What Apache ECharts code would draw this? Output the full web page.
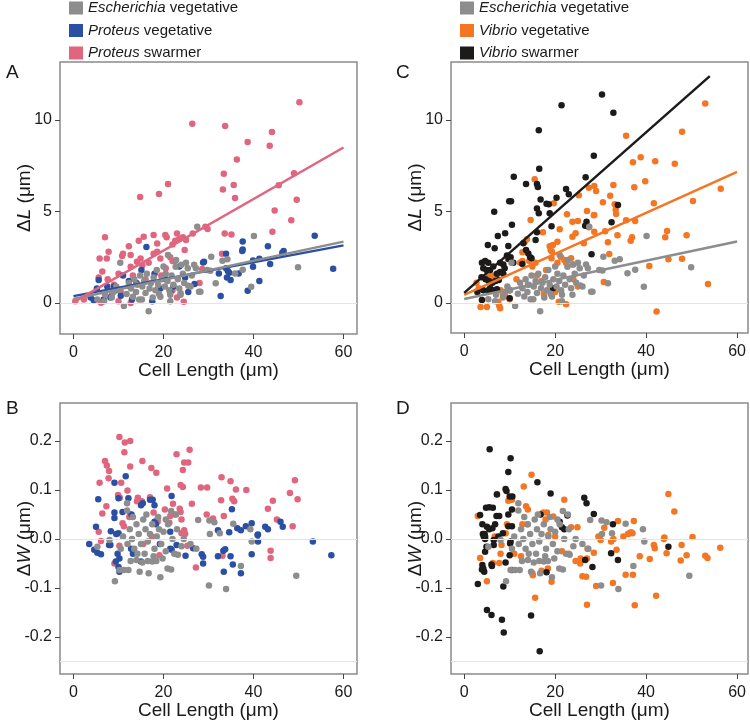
<!DOCTYPE html>
<html>
<head>
<meta charset="utf-8">
<script src="https://cdn.jsdelivr.net/npm/echarts@6.0.0/dist/echarts.min.js"></script>
<style>
html,body{margin:0;padding:0;background:#fff}
#main{width:750px;height:721px}
</style>
</head>
<body>
<div id="main"></div>
<script>
// ---- data: [cell length (um), change (um)] ----
// Escherichia vegetative, shared by panels A/C and B/D
var ecoliL = [[5.3,0.2],[6.8,0.1],[7,0.45],[8.5,0.3],[8.9,0.6],[9.5,0.9],[10.1,0.71],[10.4,2.2],[11.2,-0.16],[11.8,0.5],[12.3,1.1],[12.8,0.8],[13.2,0.35],[13.5,1.3],[13.9,0.6],[14.2,1.0],[14.6,0.2],[14.8,1.5],[15.2,0.2],[15.3,0.9],[15.7,1.2],[16.0,0.55],[16.3,1.6],[16.7,-0.45],[16.9,0.8],[17.2,1.1],[17.6,0.3],[17.8,1.4],[18.2,0.7],[18.5,1.8],[18.8,1.0],[19.0,0.5],[19.3,0.35],[19.6,1.3],[20.0,2.0],[20.3,0.9],[20.5,1.6],[20.9,1.2],[21.0,2.62],[21.3,0.7],[21.5,0.45],[21.5,0.1],[21.8,1.5],[22.2,1.0],[22.7,1.98],[22.8,2.35],[23.2,1.3],[23.5,0.8],[23.8,0.45],[24.0,2.1],[24.3,1.6],[24.6,1.1],[25.0,2.2],[25.4,1.9],[25.5,0.95],[26,0.9],[26.3,1.5],[26.8,2.1],[27.2,1.9],[27.5,4.17],[27.9,0.62],[28.2,0.62],[29.7,1.8],[30.4,1.77],[30.6,2.53],[31.6,1.08],[33.1,2.31],[34.2,2.39],[35.9,1.62],[37.6,1.82],[39.5,0.89],[40.1,3.66],[49.9,1.95]];
var ecoliW = [[11.9,0.073],[11.9,0.058],[21.7,0.057],[27.7,0.039],[30.2,0.038],[31.3,0.034],[30.3,0.01],[32.5,0.012],[35.5,0.031],[39.3,0.02],[9.2,-0.086],[10.2,-0.063],[11.2,-0.063],[12.2,-0.063],[14.7,-0.067],[16.7,-0.07],[19.3,-0.078],[20.9,-0.06],[21.7,-0.062],[30.1,-0.095],[33.9,-0.102],[37.2,-0.055],[39.6,-0.005],[49.5,-0.075],[12.7,-0.045],[14,-0.043],[15.3,-0.048],[16.5,-0.045],[17.5,-0.046],[18.4,-0.045],[22.4,-0.03],[23.2,-0.032],[24.5,0],[26,-0.01],[27.3,-0.02],[5.3,-0.016],[8,-0.002],[12.5,0.02],[13,0.0],[13.5,-0.02],[14,0.03],[14.5,0.01],[15,-0.01],[15.5,0.04],[16,0.02],[16.5,-0.005],[17,0.01],[17.5,0.03],[18,-0.02],[18.5,0.005],[19,0.02],[19.5,-0.01],[20,0.015],[20.5,-0.025],[21,0.03],[22,0.0],[23,0.02],[24,-0.015],[13.2,0.045],[15.8,-0.03],[17.8,-0.035],[19.8,-0.04],[14.2,-0.03],[16.2,0.05],[12,-0.01],[11,0.005],[10.5,-0.02],[18.8,0.045],[20.5,0.04],[22.8,0.05]];

// Proteus
var proVegL = [[53.6,3.68],[37.6,3.37],[37.6,2.93],[37.5,2.85],[43.2,3.1],[46.7,2.84],[46.4,2.75],[33.9,2.7],[39.9,2.33],[41.3,2.42],[43.7,2.13],[39.9,1.98],[57.7,1.88],[28.8,2.22],[33.9,1.9],[34.3,1.75],[34.6,1.65],[36.7,1.62],[32.3,1.62],[34.1,1.4],[34.9,1.26],[41.3,1.2],[38.7,0.67],[32.7,0.38],[16.2,3.06],[15.1,1.8],[5.6,1.26],[5.2,0.8],[4.5,0.16],[9,0.9],[9.2,0.7],[8.2,0.3],[6.7,0.2],[12.3,1.2],[12.5,0.9],[19.3,0.8],[21.5,0.6],[22.2,0.9],[29,2.26],[26.9,1.04],[10.5,0.4],[11,1.5],[13,0.2],[14,1.1],[17.5,0.1],[18,1.6],[20.5,1.3],[23.5,2.0],[24.8,1.4],[3.8,0.3],[7.5,0.9],[25.5,0.6]];
var proSwL = [[26.4,9.8],[21,6.5],[19,5.96],[14.8,5.8],[50.2,10.97],[33.7,9.67],[44.1,9.34],[38.7,8.8],[43.6,8.6],[36.3,7.85],[33.4,7.07],[49,7.09],[35.6,6.45],[33.2,6.2],[45.6,6.43],[35.9,5.74],[49.6,5.65],[44.7,5.06],[48.4,4.52],[29.3,4.17],[29.8,4.04],[33.6,3.8],[35.1,3.75],[44.2,3.9],[33,2.7],[28.6,1.86],[28,1.1],[7,3.6],[7.8,2.8],[5.8,2.44],[7.4,2.44],[6.4,1.73],[5.6,1.4],[10.8,2.57],[11,2.7],[12.7,2.62],[12.3,3.11],[14.5,3.4],[15.6,3.62],[17.8,3.72],[18.6,3.26],[20.4,3.72],[20.7,3.6],[18.6,2.8],[17.8,2.7],[14.9,2.44],[14.1,2.26],[16.7,2.2],[12.7,1.98],[15.3,2.07],[19.3,2.44],[21.5,2.5],[22,3.2],[22.6,3.4],[23.5,3.5],[24.3,3.6],[25,3.45],[24.7,2.9],[23,3.8],[26.5,3.8],[22.5,2.3],[22,2.3],[7.6,1.3],[9,1.0],[10.5,0.6],[12.7,0],[23.8,0.53],[24.5,0.07],[22,0.7],[23,0.3],[8.5,0.5],[0.4,0.1],[2.3,0.2],[6.1,0.02],[10,0.1],[10,1.6],[13.2,1.5],[16,1.3],[19.5,1.5],[20.5,1.9]];
var proVegW = [[11.6,0.128],[9.1,0.115],[5.5,0.081],[12.2,0.083],[10,0.083],[15,0.069],[15.4,0.073],[17,0.08],[17.6,0.08],[18,0.069],[21.8,0.088],[9.1,0.054],[9.1,0.043],[10.9,0.055],[12.9,0.05],[5,0.025],[8.3,0.016],[9.5,0.01],[10,0.012],[18,0.035],[18.3,0.03],[35.2,0.061],[32.1,0.018],[34.6,0.014],[36.4,0.022],[37.2,0.018],[38.3,0.026],[39.6,0.032],[41,0.009],[42.6,0.025],[43.2,0.02],[46,0.035],[46.5,0.025],[21.5,0.015],[3.5,-0.01],[4.6,-0.022],[5.3,-0.028],[6.1,-0.031],[7.9,-0.012],[8.2,-0.012],[9.8,-0.03],[10.2,-0.04],[9.4,-0.046],[10,-0.057],[10.2,-0.067],[12.8,-0.02],[13.2,-0.03],[15,-0.046],[19.2,-0.01],[21.5,-0.02],[21.8,-0.022],[22.9,-0.012],[24.9,-0.034],[26.6,-0.019],[28.5,-0.031],[28.8,-0.036],[28.8,-0.05],[32.1,-0.035],[33.3,-0.024],[33.7,-0.021],[34.9,-0.035],[35.4,-0.052],[33.4,-0.067],[37.2,-0.07],[39.6,-0.031],[40.9,0.008],[41,-0.005],[53.2,-0.005],[57.3,-0.033]];
var proSwW = [[10.2,0.208],[11.4,0.197],[12.6,0.2],[11.3,0.177],[7,0.159],[7.4,0.15],[7.9,0.139],[7.8,0.124],[5.8,0.115],[10.6,0.115],[12.6,0.148],[15.3,0.159],[17.3,0.145],[18.4,0.135],[22.9,0.173],[25.8,0.182],[24.6,0.156],[25.5,0.156],[24.3,0.141],[23.8,0.11],[24.3,0.106],[20.8,0.103],[28.3,0.105],[29.7,0.105],[32.9,0.126],[34.9,0.118],[36.1,0.101],[38.4,0.1],[35.3,0.082],[35.7,0.077],[32.8,0.079],[49.2,0.12],[48.1,0.094],[49.8,0.081],[44.3,0.078],[43.2,0.062],[45.2,0.04],[48.7,0.026],[33.4,0.047],[31,0.042],[29.6,0.05],[26.3,0.072],[23.6,0.062],[23.8,0.055],[24,0.04],[20.3,0.06],[22.1,0.072],[21.5,0.047],[21.3,0.033],[22.5,0.05],[18.7,0.041],[18.7,0.035],[17.8,0.054],[17,0.085],[14.3,0.084],[15.2,0.077],[14.1,0.077],[12,0.099],[9.9,0.09],[10.3,0.084],[7.3,0.067],[6.4,0.052],[12.6,0.05],[12.4,0.045],[10.9,0.032],[11.2,0.026],[24.6,0.018],[5.6,0.015],[6.1,-0.004],[10.2,-0.014],[9.1,-0.05],[19.1,-0.033],[25.3,-0.014],[24,0.012],[24.8,0.01],[27.2,-0.058],[33.1,-0.034],[43.8,-0.024],[43.8,-0.039],[15.5,-0.01],[17.4,0.005]];

// Vibrio
var vibVegL = [[15.5,6.76],[14.6,4.54],[19.7,5.45],[17.3,3.86],[13.3,3.33],[13.8,3.48],[22.6,4.85],[25.2,5.89],[23.8,4.44],[25,4.48],[27,5.03],[28.5,4.79],[27.4,6.3],[29,6.12],[21,4.03],[23.8,3.62],[24.5,3.81],[20.5,3.35],[19.5,3.17],[12.8,2.77],[13.6,2.84],[18.8,3.1],[19,2.9],[19.3,2.8],[19.2,2.45],[20.5,2.2],[21.3,2.5],[22,2.35],[22.4,2.2],[23.5,2.45],[23.8,2.1],[26.3,3.26],[27.4,4.14],[28.6,3.9],[14.3,2.3],[15,2.0],[15.7,2.2],[12.3,2.2],[12.8,2.3],[9.6,2.4],[5.4,1.5],[6,1.4],[6.5,1.5],[7.3,1.6],[2.7,1.1],[3.2,0.8],[8,0.7],[8.5,0.5],[9,0.4],[7.5,0.07],[7.7,-0.15],[7.9,-0.29],[3.6,-0.22],[5,-0.22],[10,0.2],[20.8,0.07],[22.4,-0.07],[20,0.6],[16,1.5],[17,1.2],[18,1.8],[24,1.3],[25,0.9],[17.5,0.5],[14,1],[11.5,1.3],[53,10.9],[47.9,9.36],[35.6,9.14],[37.1,7.69],[38.8,7.96],[42,7.74],[46.3,7.61],[28.6,6.39],[32.8,6.45],[37.4,6.32],[39.8,6.65],[56.4,6.25],[32.1,5.86],[30.5,5.5],[33.1,5.4],[33.3,5.1],[33.4,4.86],[28.6,4.81],[41.7,5.45],[50.3,5.57],[35.6,4.52],[37.6,4.48],[31,3.92],[33.7,3.7],[36.9,3.59],[36.6,3.4],[31.6,3.32],[44.6,3.93],[44.2,3.59],[48.9,3.7],[31.9,2.68],[44.9,2.39],[47.9,2.42],[40.7,2.02],[30.7,1.15],[53.6,1.04],[42.3,-0.47]];
var vibSwL = [[21.4,10.8],[16.4,9.44],[28.5,8.05],[16.5,7.34],[10.9,6.9],[16,6.5],[16.2,6.34],[13.6,6.5],[26.7,6.87],[22.4,6.23],[23,5.94],[16.8,5.65],[20.3,5.75],[18.1,5.43],[18.6,5.39],[9.9,5.56],[10.3,5.56],[16,5.17],[16.4,4.9],[6.6,4.99],[18.8,4.9],[10.5,4.28],[19.2,4.2],[26.9,4.44],[26.6,4.22],[7.4,3.66],[9,3.81],[16,3.86],[15.7,3.44],[5.2,3.17],[6.7,2.99],[9.7,3.11],[13,3.26],[13.6,2.9],[14.1,2.7],[14.5,2.5],[14.8,2.44],[9.4,2.6],[9.8,2.4],[10.2,2.5],[10.8,2.2],[3.9,2.2],[4.6,2.3],[5.3,2.2],[4.2,1.9],[4.9,1.8],[5.7,1.8],[6.4,2.0],[7.9,2.2],[8.6,2.1],[7.2,1.6],[7.9,1.7],[8.6,1.6],[8.9,1.9],[3.8,1.4],[4.7,1.3],[5.4,1.2],[6.2,1.1],[6.9,1.2],[7.6,1.25],[4.2,0.7],[5.3,0.7],[5.7,0.8],[6.4,0.7],[7.2,0.75],[3.9,0.16],[2.9,0.6],[10,0.7],[10,0.26],[12.8,2.13],[19.5,0.8],[28,2.66],[30.3,11.4],[32.8,10.4],[33.8,5.36],[32.4,4.41]];
var vibVegW = [[14.8,0.131],[13.1,0.107],[7.2,0.092],[10.5,0.08],[9.7,0.078],[22,0.08],[13.6,0.067],[14,0.06],[17.4,0.054],[18.2,0.054],[17.9,0.04],[19.6,0.046],[12.8,0.03],[13.9,0.03],[9.4,0.03],[9.1,0.012],[23.5,0.024],[24.9,0.024],[33.8,0.037],[37.3,0.037],[44.9,0.092],[46.2,0.056],[50.2,0.004],[44,0.003],[36.3,0.012],[36.7,0.014],[30.8,0.023],[3,0.047],[6.7,0.005],[20,0.005],[18.5,0.008],[3.5,-0.039],[5,-0.086],[6.3,-0.049],[7.7,-0.049],[8,-0.03],[8.2,-0.012],[15.6,-0.12],[15,-0.07],[15.1,-0.074],[17,-0.065],[18.4,-0.06],[19.2,-0.087],[27,-0.134],[26,-0.076],[26.8,-0.077],[27,-0.04],[27.1,-0.02],[25.5,-0.05],[25.6,-0.04],[24.5,-0.045],[29,-0.096],[32.7,-0.09],[33.5,-0.022],[35.5,-0.073],[37.1,-0.073],[37.5,-0.135],[38.6,-0.035],[40.8,-0.041],[41.7,-0.012],[41.9,-0.019],[43.9,0],[42.2,-0.116],[44.5,-0.029],[47.8,-0.012],[48.9,-0.033],[47.6,-0.044],[53,-0.034],[53.5,-0.039],[56.3,-0.018],[35,0.005],[36,0.01],[37,0.012],[32.3,-0.005],[32.8,0],[29.5,0.005],[23,-0.03],[21.5,-0.025],[11,-0.03],[12.5,-0.035],[30,-0.002],[28.5,-0.028]];
var vibSwW = [[5.6,0.183],[10.2,0.165],[9.7,0.137],[16.1,0.116],[9.1,0.102],[9.3,0.098],[10,0.087],[10.6,0.087],[19,0.093],[7.2,0.091],[26.4,0.084],[26.9,0.073],[28.5,0.051],[32.7,0.03],[4.8,0.064],[5.5,0.065],[6.3,0.064],[3.5,0.049],[4,0.03],[5,0.025],[5.5,0.02],[6.2,0.022],[6.8,0.03],[7.1,0.047],[7.7,0.047],[4.5,0.01],[4.6,0.005],[9.7,0.026],[10.5,0.026],[9.7,0.05],[10.5,0.06],[16.8,0.05],[21,0.035],[22,0.02],[22.7,0.048],[21.5,0.024],[4.1,0.01],[4.6,0],[4.3,0.005],[6.5,-0.002],[6.5,-0.012],[4.9,-0.016],[4.6,-0.026],[4,-0.053],[4.2,-0.06],[4.4,-0.067],[3.9,-0.062],[6,-0.052],[6.1,-0.055],[3,-0.092],[5,-0.145],[6,-0.155],[8.3,-0.165],[8.7,-0.191],[8.6,-0.097],[14.7,-0.156],[16.6,-0.229],[9.1,-0.048],[10,-0.033],[10.1,-0.009],[10.2,-0.005],[10.5,-0.063],[18.1,-0.068],[26.6,-0.043],[28.2,-0.057],[32.3,-0.029],[33.8,-0.043],[44.9,-0.016],[7.5,0.005],[8.5,0.012]];

// linear fits: [intercept, slope, last x]
var fitEcoli = [0.22, 0.0523, 60];
var fitProVeg = [0.38, 0.0462, 60];
var fitProSw = [0.05, 0.1408, 60];
var fitVibVeg = [0.44, 0.112, 60];
var fitVibSw = [0.55, 0.2194, 54];

var xTicks = [0, 20, 40, 60];
var lTicks = [0, 5, 10];
var wTicks = [-0.2, -0.1, 0, 0.1, 0.2];
var refL = [0];
var refW = [0, -0.25];

var names = {
  eco: 'Escherichia vegetative',
  pv: 'Proteus vegetative',
  ps: 'Proteus swarmer',
  vv: 'Vibrio vegetative',
  vs: 'Vibrio swarmer'
};
var col = {eco: '#8d8d8d', pv: '#2b4fa2', ps: '#e0667f', vv: '#f47622', vs: '#1d1a1a'};
var FONT = '"Liberation Sans", Arial, sans-serif';
var txt = '#1a1a1a';

var grids = [
  {left: 60, top: 62, width: 297, height: 272},
  {left: 60, top: 403, width: 297, height: 271},
  {left: 451, top: 62, width: 297, height: 271},
  {left: 451, top: 403, width: 297, height: 271}
];
grids.forEach(function (g) {
  g.show = true; g.borderColor = '#8a8a8a'; g.borderWidth = 1.5; g.backgroundColor = 'transparent';
});

function xAxis(i, min, max) {
  return {
    gridIndex: i, type: 'value', min: min, max: max,
    axisLine: {show: false, onZero: false}, splitLine: {show: false},
    axisTick: {length: 5, lineStyle: {color: '#444'}, customValues: xTicks},
    axisLabel: {customValues: xTicks, fontSize: 16, color: txt, margin: 11, fontFamily: FONT},
    name: 'Cell Length (μm)', nameLocation: 'middle', nameGap: 27, nameMoveOverlap: false,
    nameTextStyle: {fontSize: 19, color: txt, fontFamily: FONT}
  };
}
function yAxis(i, min, max, ticks, letter, isW) {
  return {
    gridIndex: i, type: 'value', min: min, max: max,
    axisLine: {show: false, onZero: false}, splitLine: {show: false},
    axisTick: {length: 5, lineStyle: {color: '#444'}, customValues: ticks},
    axisLabel: {
      customValues: ticks, fontSize: 16, color: txt, margin: 8, fontFamily: FONT,
      formatter: function (v) { return isW ? v.toFixed(1) : String(v); }
    },
    name: '{d|Δ}{i|' + letter + '}{d| (μm)}', nameLocation: 'middle', nameGap: 26, nameMoveOverlap: false,
    nameTextStyle: {
      fontSize: 19, color: txt, fontFamily: FONT,
      rich: {d: {fontSize: 19, color: txt, fontFamily: FONT}, i: {fontSize: 19, color: txt, fontFamily: FONT, fontStyle: 'italic'}}
    }
  };
}

function dots(name, data, i, c, z) {
  return {type: 'scatter', name: name, data: data, xAxisIndex: i, yAxisIndex: i,
    symbolSize: 6.5, itemStyle: {color: c, opacity: 1}, z: z, silent: true, animation: false};
}
function fit(f, i, c) {
  return {type: 'line', name: 'fit', data: [[0, f[0]], [f[2], f[0] + f[1] * f[2]]],
    xAxisIndex: i, yAxisIndex: i, showSymbol: false, silent: true, animation: false,
    lineStyle: {color: c, width: 2.5}, z: 6};
}
function ref(i, vals) {
  return {type: 'line', name: 'ref', data: [], xAxisIndex: i, yAxisIndex: i, z: 1, silent: true, animation: false,
    markLine: {silent: true, symbol: 'none', label: {show: false}, animation: false,
      lineStyle: {color: '#e4e4e4', width: 1, type: 'solid'},
      data: vals.map(function (v) { return {yAxis: v}; })}};
}

var series = [
  ref(0, refL), ref(1, refW), ref(2, refL), ref(3, refW),
  // A
  dots(names.ps, proSwL, 0, col.ps, 2),
  dots(names.pv, proVegL, 0, col.pv, 3),
  dots(names.eco, ecoliL, 0, col.eco, 4),
  fit(fitProVeg, 0, col.pv), fit(fitEcoli, 0, col.eco), fit(fitProSw, 0, col.ps),
  // B
  dots(names.ps, proSwW, 1, col.ps, 2),
  dots(names.pv, proVegW, 1, col.pv, 3),
  dots(names.eco, ecoliW, 1, col.eco, 4),
  // C
  dots(names.vv, vibVegL, 2, col.vv, 2),
  dots(names.vs, vibSwL, 2, col.vs, 3),
  dots(names.eco, ecoliL, 2, col.eco, 4),
  fit(fitEcoli, 2, col.eco), fit(fitVibVeg, 2, col.vv), fit(fitVibSw, 2, col.vs),
  // D
  dots(names.vv, vibVegW, 3, col.vv, 2),
  dots(names.vs, vibSwW, 3, col.vs, 3),
  dots(names.eco, ecoliW, 3, col.eco, 4)
];

function legend(left, list) {
  return {
    left: left, top: 0.5, padding: 0, orient: 'vertical', icon: 'rect', itemWidth: 14, itemHeight: 13, itemGap: 7.5,
    selectedMode: false, data: list,
    formatter: function (n) { var p = n.split(' '); return '{i|' + p[0] + '} ' + p[1]; },
    textStyle: {fontSize: 15, color: txt, fontFamily: FONT,
      rich: {i: {fontSize: 15, color: txt, fontFamily: FONT, fontStyle: 'italic'}}}
  };
}

function letter(t, x, y) {
  return {type: 'text', left: x, top: y, silent: true,
    style: {text: t, fontSize: 19, fill: txt, fontFamily: FONT}};
}

var chart = echarts.init(document.getElementById('main'));
chart.setOption({
  animation: false,
  backgroundColor: '#fff',
  grid: grids,
  xAxis: [xAxis(0, -3, 63), xAxis(1, -3, 63), xAxis(2, -2.9, 62.4), xAxis(3, -2.9, 62.4)],
  yAxis: [
    yAxis(0, -1.69, 13.17, lTicks, 'L', false),
    yAxis(1, -0.2755, 0.2776, wTicks, 'W', true),
    yAxis(2, -1.64, 13.17, lTicks, 'L', false),
    yAxis(3, -0.2755, 0.2776, wTicks, 'W', true)
  ],
  legend: [
    legend(69, [names.eco, names.pv, names.ps]),
    legend(460, [names.eco, names.vv, names.vs])
  ],
  graphic: [letter('A', 6, 63), letter('B', 6, 399), letter('C', 396, 63), letter('D', 396, 399)],
  series: series
});
</script>
</body>
</html>
